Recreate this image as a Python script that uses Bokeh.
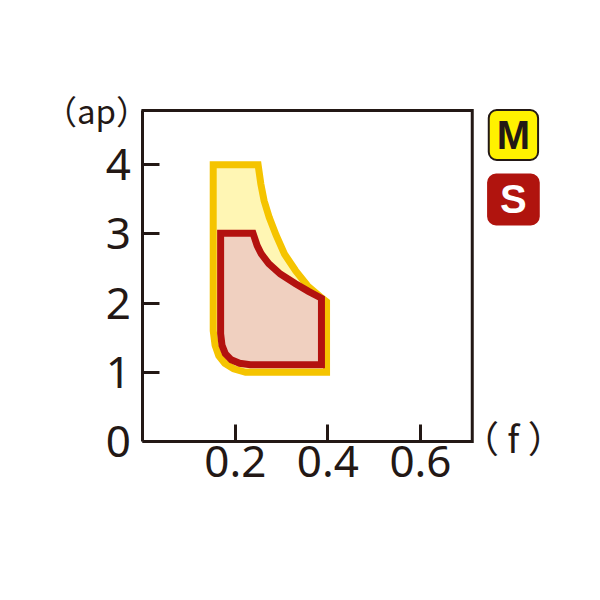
from bokeh.plotting import figure
from bokeh.models import FixedTicker, Range1d, Label
from bokeh.embed import file_html
from bokeh.resources import INLINE

# Outline of region M (feed f, depth ap)
m_f = [0.152, 0.249, 0.255, 0.262, 0.273, 0.288, 0.306, 0.330, 0.356, 0.384, 0.397,
       0.397, 0.222, 0.196, 0.177, 0.164, 0.156, 0.152]
m_ap = [4.00, 4.00, 3.72, 3.48, 3.24, 2.98, 2.71, 2.47, 2.25, 2.09, 2.02,
        1.00, 1.00, 1.05, 1.13, 1.24, 1.39, 1.60]

# Outline of region S
s_f = [0.168, 0.238, 0.247, 0.256, 0.272, 0.297, 0.330, 0.358, 0.386,
       0.386, 0.232, 0.209, 0.191, 0.178, 0.171, 0.168]
s_ap = [3.01, 3.01, 2.83, 2.71, 2.57, 2.42, 2.28, 2.17, 2.07,
        1.11, 1.11, 1.13, 1.18, 1.27, 1.39, 1.56]

x_ticks = [0.2, 0.4, 0.6]
y_ticks = [0, 1, 2, 3, 4]
F_MAX = 0.712    # right edge of the chart box (f)
AP_MAX = 4.783   # top edge of the chart box (ap)

INK = "#231815"

p = figure(frame_width=550, frame_height=470,
           x_range=Range1d(-0.243, 0.946), y_range=Range1d(-1.1416, 5.650),
           output_backend="svg", toolbar_location=None,
           min_border_left=30, min_border_right=4,
           min_border_top=50, min_border_bottom=70)

p.grid.visible = False
p.outline_line_color = None

p.xaxis.ticker = FixedTicker(ticks=x_ticks)
p.yaxis.ticker = FixedTicker(ticks=y_ticks)
p.xaxis.bounds = (0, F_MAX)
p.yaxis.bounds = (0, AP_MAX)
p.xaxis.fixed_location = 0
p.yaxis.fixed_location = 0
for ax in (p.xaxis, p.yaxis):
    ax.axis_line_color = INK
    ax.axis_line_width = 3
    ax.major_tick_line_color = INK
    ax.major_tick_line_width = 3
    ax.major_tick_in = 17
    ax.major_tick_out = 0
    ax.minor_tick_line_color = None
    ax.major_label_text_font = "Noto Sans"
    ax.major_label_text_font_size = "44px"
    ax.major_label_text_color = INK
p.xaxis.major_label_standoff = 5
p.yaxis.major_label_standoff = 12

# top and right edges of the chart box
p.line([0, F_MAX, F_MAX], [AP_MAX, AP_MAX, 0], line_color=INK, line_width=3,
       line_cap="square", line_join="miter")

p.patch(m_f, m_ap, fill_color="#FFF6B4", line_color="#F5C400", line_width=7,
        line_join="miter")
p.patch(s_f, s_ap, fill_color="#F0D0C0", line_color="#B3120F", line_width=7,
        line_join="miter")

p.add_layout(Label(x=0.013, y=AP_MAX, text="（ap）", text_align="right",
                   text_baseline="middle", text_font="Noto Sans CJK JP",
                   text_font_size="33px", text_color=INK))
p.add_layout(Label(x=0.690, y=0.072, text="（ f ）", text_align="left",
                   text_baseline="middle", text_font="Noto Sans CJK JP",
                   text_font_size="37px", text_color=INK))

p.add_layout(Label(x=0.801, y=4.429, text="M", text_align="center",
                   text_baseline="middle", text_font="Liberation Sans",
                   text_font_style="bold", text_font_size="40px", text_color=INK,
                   background_fill_color="#FFF100", border_line_color=INK,
                   border_line_width=2, border_radius=8, padding=(8, 3)))
p.add_layout(Label(x=0.801, y=3.497, text="S", text_align="center",
                   text_baseline="middle", text_font="Liberation Sans",
                   text_font_style="bold", text_font_size="40px", text_color="white",
                   background_fill_color="#B0140E", border_line_color="#B0140E",
                   border_line_width=2, border_radius=8, padding=(12, 3)))

open("out.html", "w").write(file_html(p, INLINE))
